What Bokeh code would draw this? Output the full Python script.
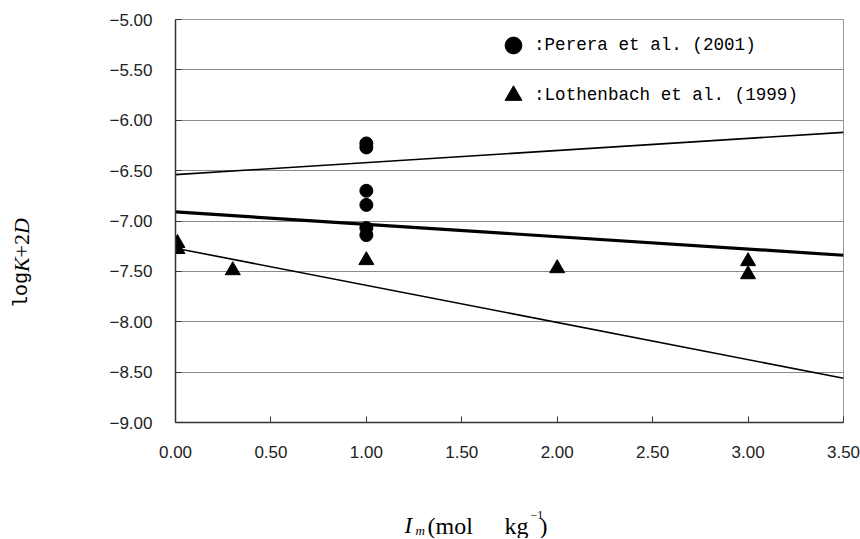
import math
from bokeh.plotting import figure
from bokeh.layouts import column, row
from bokeh.models import Range1d, FixedTicker, CustomJSTickFormatter, Legend, LegendItem, Label
from bokeh.embed import file_html
from bokeh.resources import INLINE

# ---- data ----
perera_x = [1.00, 1.00, 1.00, 1.00, 1.00, 1.00]
perera_y = [-6.23, -6.27, -6.70, -6.84, -7.07, -7.14]

loth_x = [0.01, 0.01, 0.30, 1.00, 2.00, 3.00, 3.00]
loth_y = [-7.22, -7.28, -7.49, -7.39, -7.47, -7.40, -7.53]

fit_x = [0.0, 3.5]
upper_y = [-6.54, -6.12]
mid_y = [-6.91, -7.34]
lower_y = [-7.27, -8.56]

x_ticks = [0.0, 0.5, 1.0, 1.5, 2.0, 2.5, 3.0, 3.5]
y_ticks = [-9.0, -8.5, -8.0, -7.5, -7.0, -6.5, -6.0, -5.5, -5.0]

legend_labels = [":Perera et al. (2001)", ":Lothenbach et al. (1999)"]

yr = Range1d(-9, -5)
p = figure(width=800, height=480, output_backend="svg", toolbar_location=None,
           x_range=Range1d(0, 3.5), y_range=yr,
           min_border_left=115, min_border_right=17, min_border_top=19, min_border_bottom=58)

p.outline_line_color = "#999999"
p.outline_line_width = 1
p.background_fill_color = "white"
p.border_fill_color = "white"

fmt = CustomJSTickFormatter(code="return tick.toFixed(2).replace('-', '\u2212');")
for ax, ticks, standoff in ((p.xaxis[0], x_ticks, 23), (p.yaxis[0], y_ticks, 23)):
    ax.ticker = FixedTicker(ticks=ticks)
    ax.formatter = fmt
    ax.axis_line_color = "#333333"
    ax.axis_line_width = 1.5
    ax.major_tick_in = 6
    ax.major_tick_out = 0
    ax.major_tick_line_color = "#333333"
    ax.minor_tick_line_color = None
    ax.major_label_text_font = "Liberation Sans"
    ax.major_label_text_font_size = "17px"
    ax.major_label_text_color = "#222222"
    ax.major_label_standoff = standoff

p.xgrid.visible = False
p.ygrid.ticker = FixedTicker(ticks=y_ticks)
p.ygrid.grid_line_color = "#8a8a8a"
p.ygrid.grid_line_width = 1

p.line(fit_x, upper_y, line_color="black", line_width=1.6)
p.line(fit_x, mid_y, line_color="black", line_width=3.2)
p.line(fit_x, lower_y, line_color="black", line_width=1.6)

r_per = p.scatter(perera_x, perera_y, marker="circle", size=13, fill_color="black", line_color="black")
r_lot = p.scatter(loth_x, loth_y, marker="triangle", size=15, fill_color="black", line_color="black")

legend = Legend(items=[LegendItem(label=legend_labels[0], renderers=[r_per]),
                       LegendItem(label=legend_labels[1], renderers=[r_lot])],
                location=(317, 306), padding=0, margin=0, spacing=8,
                glyph_width=42, glyph_height=42, label_height=42, label_standoff=0,
                border_line_color=None, background_fill_alpha=0,
                label_text_font="Liberation Mono", label_text_font_size="17.6px",
                label_text_color="black", label_text_baseline="middle")
p.add_layout(legend, "center")


def label_fig(w, h, y_range):
    f = figure(width=w, height=h, output_backend="svg", toolbar_location=None, title=None,
               x_range=Range1d(0, w), y_range=y_range,
               x_axis_type=None, y_axis_type=None,
               min_border_left=0, min_border_right=0, min_border_top=0, min_border_bottom=0)
    f.outline_line_color = None
    f.grid.visible = False
    f.background_fill_color = "white"
    f.border_fill_color = "white"
    return f


# y axis title: its frame is aligned with the main frame, so share the y range
left = label_fig(60, 480, yr)
def ylab(text, y, font, style, size):
    left.add_layout(Label(x=21, y=y, text=text, angle=math.pi / 2, text_align="left",
                          text_baseline="middle", text_font=font, text_font_style=style,
                          text_font_size=size, text_color="black"))
ylab("log", -7.864, "Liberation Mono", "normal", "20px")
ylab("K", -7.507, "Liberation Serif", "italic", "22px")
ylab("+2", -7.362, "Liberation Serif", "normal", "22px")
ylab("D", -7.130, "Liberation Serif", "italic", "22px")

# x axis title pieces
bottom = label_fig(860, 58, Range1d(0, 58))
def xlab(text, x, y, font, style, size):
    bottom.add_layout(Label(x=x, y=y, text=text, text_align="left", text_baseline="alphabetic",
                            text_font=font, text_font_style=style, text_font_size=size,
                            text_color="black"))
xlab("I", 404, 13, "Liberation Serif", "italic", "23px")
xlab("m", 415, 8, "Liberation Serif", "italic", "13px")
xlab("(mol", 427, 13, "Liberation Serif", "normal", "24px")
xlab("kg", 504, 13, "Liberation Serif", "normal", "24px")
xlab("\u22121", 530, 24, "Liberation Serif", "normal", "12px")
xlab(")", 539, 13, "Liberation Serif", "normal", "24px")

layout = column(row(left, p, spacing=0), bottom, spacing=0)

open("out.html", "w").write(file_html(layout, INLINE))
